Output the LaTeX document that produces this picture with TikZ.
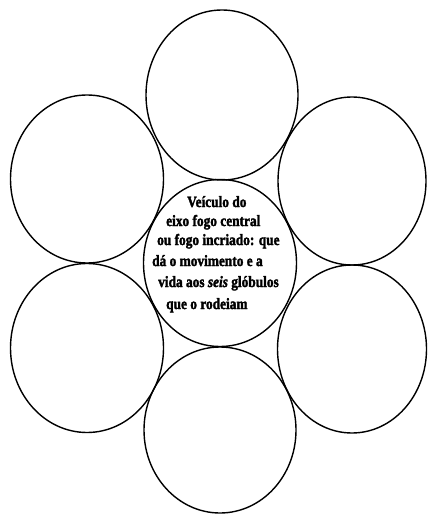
\documentclass[tikz,border=0pt]{standalone}
\usepackage{fontspec}
\newfontfamily\globefont{Liberation Serif}[UprightFont={* Bold}, ItalicFont={* Bold Italic}, FakeBold=2.2]
\usetikzlibrary{shapes.geometric}
\tikzset{
  globe/.style={ellipse, draw=black, line width=1.4bp, inner sep=0pt},
  txt/.style={anchor=base west, inner sep=0pt, font=\globefont\fontsize{13.4}{16}\selectfont, yscale=1.18}
}
\begin{document}
\begin{tikzpicture}[x=1bp,y=-1bp]
\useasboundingbox (0,0) rectangle (427,515);
\node[globe, minimum width=152bp, minimum height=170bp] (top) at (222,95) {};
\node[globe, minimum width=153bp, minimum height=168bp] (ul) at (87,179) {};
\node[globe, minimum width=148bp, minimum height=168bp] (ur) at (352,181) {};
\node[globe, minimum width=153bp, minimum height=167bp] (ctr) at (220,263) {};
\node[globe, minimum width=153bp, minimum height=169bp] (ll) at (87,348) {};
\node[globe, minimum width=149bp, minimum height=168bp] (lr) at (352,349) {};
\node[globe, minimum width=152bp, minimum height=166bp] (bot) at (220,430) {};
\node[txt] (l1) at (187,207) {Veículo do};
\node[txt] (l2) at (166,226) {eixo fogo central};
\node[txt] (l3) at (157,245) {ou fogo incriado: que};
\node[txt] (l4) at (152,266) {dá o movimento e a};
\node[txt] (l5) at (158,287) {vida aos \textit{seis} glóbulos};
\node[txt] (l6) at (166,309) {que o rodeiam};
\end{tikzpicture}
\end{document}
